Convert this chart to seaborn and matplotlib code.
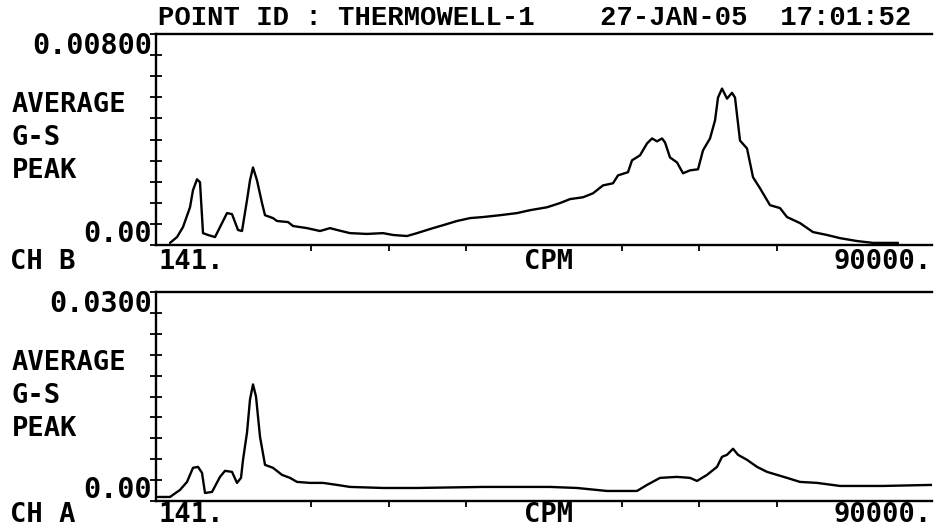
import numpy as np
import pandas as pd
import matplotlib
matplotlib.use("Agg")
import matplotlib.pyplot as plt
import seaborn as sns

# Channel B spectrum: frequency (CPM) and average G-S peak amplitude
chb_cpm = [1762, 2573, 3268, 4078, 4426, 4889, 5236, 5584, 6163, 6973, 7784, 8363,
           8942, 9636, 10100, 10679, 11026, 11374, 11837, 12416, 12763, 13690, 14153,
           15427, 16006, 17627, 19132, 20290, 21101, 22606, 24575, 26428, 27586, 29207,
           30365, 32218, 33376, 34997, 36502, 38008, 39976, 41945, 43450, 45419, 46924,
           48082, 49588, 50746, 51903, 53061, 53640, 54798, 55262, 56188, 56999, 57578,
           58157, 58736, 59083, 59662, 60473, 61168, 61978, 62905, 63484, 64294, 64873,
           65221, 65684, 66263, 66842, 67189, 67768, 68579, 69274, 70084, 71242, 72400,
           73211, 74716, 76222, 77843, 79348, 81317, 83170, 86065]
chb_amp = [0.00008, 0.00030, 0.00068, 0.00143, 0.00208, 0.00249, 0.00238, 0.00045,
           0.00038, 0.00030, 0.00083, 0.00121, 0.00117, 0.00057, 0.00053, 0.00170,
           0.00245, 0.00294, 0.00245, 0.00159, 0.00113, 0.00102, 0.00091, 0.00087,
           0.00072, 0.00064, 0.00053, 0.00064, 0.00057, 0.00045, 0.00042, 0.00045,
           0.00038, 0.00034, 0.00045, 0.00064, 0.00075, 0.00091, 0.00102, 0.00106,
           0.00113, 0.00121, 0.00132, 0.00143, 0.00159, 0.00174, 0.00181, 0.00196,
           0.00226, 0.00234, 0.00264, 0.00276, 0.00321, 0.00340, 0.00385, 0.00404,
           0.00393, 0.00404, 0.00389, 0.00332, 0.00313, 0.00272, 0.00283, 0.00287,
           0.00359, 0.00404, 0.00472, 0.00559, 0.00593, 0.00555, 0.00577, 0.00559,
           0.00396, 0.00366, 0.00257, 0.00215, 0.00151, 0.00140, 0.00106, 0.00083,
           0.00049, 0.00038, 0.00026, 0.00015, 0.00008, 0.00008]

# Channel A spectrum
cha_cpm = [373, 1762, 2920, 3731, 4426, 5005, 5468, 5815, 6626, 7552, 8131, 8942,
           9521, 9984, 10216, 10679, 11026, 11374, 11721, 12184, 12763, 13690, 14732,
           15658, 16469, 17974, 19480, 21101, 22606, 26428, 30365, 38008, 45766, 48893,
           52367, 55841, 56999, 58504, 60473, 61978, 62789, 63947, 65105, 65684, 66263,
           66958, 67537, 68579, 69737, 70895, 72053, 73211, 74716, 76685, 79348, 84328,
           90000]
cha_amp = [0.00058, 0.00058, 0.00159, 0.00274, 0.00476, 0.00490, 0.00404, 0.00115,
           0.00130, 0.00346, 0.00433, 0.00418, 0.00260, 0.00332, 0.00591, 0.00981,
           0.01456, 0.01673, 0.01500, 0.00923, 0.00519, 0.00476, 0.00375, 0.00332,
           0.00274, 0.00260, 0.00260, 0.00231, 0.00202, 0.00187, 0.00187, 0.00202,
           0.00202, 0.00187, 0.00144, 0.00144, 0.00231, 0.00332, 0.00346, 0.00332,
           0.00288, 0.00375, 0.00490, 0.00634, 0.00663, 0.00750, 0.00663, 0.00591,
           0.00490, 0.00418, 0.00375, 0.00332, 0.00274, 0.00260, 0.00216, 0.00216,
           0.00231]

cpm_min, cpm_max = 141, 90000
chb_full_scale, chb_full_label = 0.008, "0.00800"
cha_full_scale, cha_full_label = 0.03, "0.0300"
header_text = "POINT ID : THERMOWELL-1    27-JAN-05  17:01:52"
amp_label_lines = ["AVERAGE", "G-S", "PEAK"]

W, H = 937, 529
sns.set_style("white")
plt.rcParams["font.family"] = ["DejaVu Sans Mono", "DejaVu Sans"]

fig = plt.figure(figsize=(W / 100, H / 100), dpi=100)
fig.patch.set_facecolor("white")


def fpos(x, y):
    """Pixel position (from top-left) to figure fraction."""
    return x / W, 1 - y / H


def panel(rect_px, cpm, amp, full, full_label, channel, axis_label_gap):
    left, top, right, bottom = rect_px
    x0, y0 = fpos(left, bottom)
    ax = fig.add_axes([x0, y0, (right - left) / W, (bottom - top) / H])
    df = pd.DataFrame({"cpm": cpm, "amp": amp})
    sns.lineplot(data=df, x="cpm", y="amp", ax=ax, color="black", lw=1.7,
                 estimator=None, sort=False)
    ax.set_xlim(cpm_min, cpm_max)
    ax.set_ylim(0, full)
    ax.set_xlabel("")
    ax.set_ylabel("")
    ax.set_facecolor("white")

    ax.set_yticks(np.linspace(0, full, 11))
    ax.set_yticklabels([])
    step = (cpm_max - cpm_min) / 10
    ax.set_xticks([cpm_min + k * step for k in (2, 3, 4, 6, 7, 8)])
    ax.set_xticklabels([])
    ax.tick_params(axis="y", which="both", left=True, direction="inout",
                   length=9, width=1.3, color="black")
    ax.tick_params(axis="x", which="both", bottom=True, direction="out",
                   length=4, width=1.3, color="black")
    for side in ("left", "bottom", "top"):
        ax.spines[side].set_visible(True)
        ax.spines[side].set_color("black")
        ax.spines[side].set_linewidth(1.7)
    ax.spines["right"].set_visible(False)

    num_style = dict(fontsize=20.5, fontweight="bold", color="black",
                     family=["DejaVu Sans Mono"])
    lab_style = dict(fontsize=19.5, fontweight="bold", color="black",
                     family=["DejaVu Sans Mono"])
    fig.text(*fpos(left - 4, top + 12), full_label, ha="right", va="center", **num_style)
    fig.text(*fpos(left - 4, bottom - 11), "0.00", ha="right", va="center", **num_style)
    for i, line in enumerate(amp_label_lines):
        fig.text(*fpos(12, top + 71 + i * 33), line, ha="left", va="center", **lab_style)
    ly = bottom + axis_label_gap
    fig.text(*fpos(10, ly), channel, ha="left", va="center", **lab_style)
    fig.text(*fpos(left + 3, ly), f"{cpm_min}.", ha="left", va="center", **lab_style)
    fig.text(*fpos((left + right) / 2 + 5, ly), "CPM", ha="center", va="center", **lab_style)
    fig.text(*fpos(right, ly), f"{cpm_max}.", ha="right", va="center", **lab_style)
    return ax


panel((156, 34, 932, 245), chb_cpm, chb_amp, chb_full_scale, chb_full_label, "CH B", 17)
panel((156, 292, 932, 501), cha_cpm, cha_amp, cha_full_scale, cha_full_label, "CH A", 14)

fig.text(*fpos(158, 18), header_text, ha="left", va="center", fontsize=19.6,
         fontweight="bold", family=["Liberation Mono", "DejaVu Sans Mono"], color="black")

fig.savefig("out.png", dpi=100, facecolor="white")
